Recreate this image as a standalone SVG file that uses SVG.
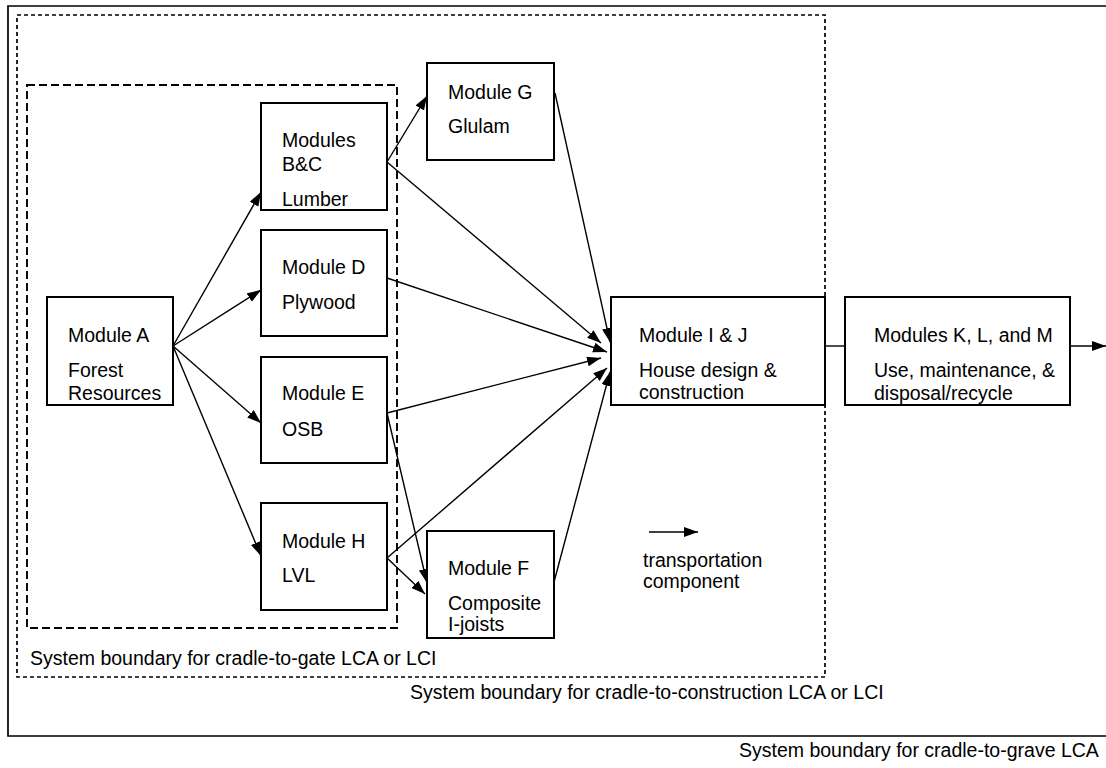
<svg xmlns="http://www.w3.org/2000/svg" width="1106" height="768" viewBox="0 0 1106 768">
<style>
text{font-family:"Liberation Sans",Arial,sans-serif;font-size:19.5px;fill:#000}
.box{fill:#fff;stroke:#000;stroke-width:2}
.c{stroke:#000;stroke-width:1.4;fill:none}
.a{marker-end:url(#ah)}
</style>
<defs>
<marker id="ah" markerUnits="userSpaceOnUse" markerWidth="15" markerHeight="11" refX="14" refY="5" orient="auto">
<path d="M0,0 L14,5 L0,10 z" fill="#000"/>
</marker>
</defs>
<rect width="1106" height="768" fill="#fff"/>
<g id="boundaries" fill="none" stroke="#000">
<path d="M1106,6 H8 V736 H1106" stroke-width="1.7"/>
<rect x="17" y="15" width="808" height="662" stroke-width="1.7" stroke-dasharray="4,3"/>
<rect x="27" y="85" width="370" height="543" stroke-width="1.9" stroke-dasharray="8,4"/>
</g>
<g id="connectors">
<line class="c a" x1="173" y1="346" x2="261" y2="192"/>
<line class="c a" x1="173" y1="346" x2="261" y2="290"/>
<line class="c a" x1="173" y1="346" x2="261" y2="423"/>
<line class="c a" x1="173" y1="346" x2="261" y2="556"/>
<line class="c a" x1="387" y1="162" x2="427" y2="96"/>
<line class="c a" x1="387" y1="162" x2="601" y2="343"/>
<line class="c a" x1="555" y1="93" x2="610" y2="342"/>
<line class="c a" x1="387" y1="278" x2="607" y2="352"/>
<line class="c a" x1="387" y1="413" x2="601" y2="358"/>
<line class="c a" x1="387" y1="413" x2="427" y2="583"/>
<line class="c a" x1="387" y1="558" x2="607" y2="368"/>
<line class="c a" x1="387" y1="558" x2="425" y2="594"/>
<line class="c a" x1="554" y1="582" x2="610" y2="372"/>
<line class="c" x1="825" y1="346" x2="845" y2="346"/>
<line class="c a" x1="1070" y1="346" x2="1106" y2="346"/>
<line class="c a" x1="649" y1="532" x2="698" y2="532"/>
</g>
<g id="moduleA"><rect class="box" x="47" y="297" width="126" height="108"/>
<text x="68" y="342">Module A</text><text x="68" y="377">Forest</text><text x="68" y="400">Resources</text></g>
<g id="moduleBC"><rect class="box" x="261" y="103" width="126" height="107"/>
<text x="282" y="147">Modules</text><text x="282" y="171">B&amp;C</text><text x="282" y="206">Lumber</text></g>
<g id="moduleD"><rect class="box" x="261" y="230" width="126" height="106"/>
<text x="282" y="274">Module D</text><text x="282" y="309">Plywood</text></g>
<g id="moduleE"><rect class="box" x="261" y="357" width="126" height="106"/>
<text x="282" y="400">Module E</text><text x="282" y="436">OSB</text></g>
<g id="moduleH"><rect class="box" x="261" y="503" width="126" height="107"/>
<text x="282" y="548">Module H</text><text x="282" y="582">LVL</text></g>
<g id="moduleG"><rect class="box" x="427" y="63" width="127" height="97"/>
<text x="448" y="99">Module G</text><text x="448" y="133">Glulam</text></g>
<g id="moduleF"><rect class="box" x="427" y="531" width="127" height="107"/>
<text x="448" y="575">Module F</text><text x="448" y="610">Composite</text><text x="448" y="631">I-joists</text></g>
<g id="moduleIJ"><rect class="box" x="611" y="297" width="214" height="108"/>
<text x="639" y="342">Module I &amp; J</text><text x="639" y="377">House design &amp;</text><text x="639" y="399">construction</text></g>
<g id="moduleKLM"><rect class="box" x="845" y="297" width="225" height="108"/>
<text x="874" y="342">Modules K, L, and M</text><text x="874" y="377">Use, maintenance, &amp;</text><text x="874" y="400">disposal/recycle</text></g>
<g id="legend"><text x="643" y="567">transportation</text><text x="643" y="588">component</text></g>
<g id="labels">
<text x="30" y="665">System boundary for cradle-to-gate LCA or LCI</text>
<text x="410" y="699">System boundary for cradle-to-construction LCA or LCI</text>
<text x="739" y="757">System boundary for cradle-to-grave LCA</text>
</g>
</svg>
